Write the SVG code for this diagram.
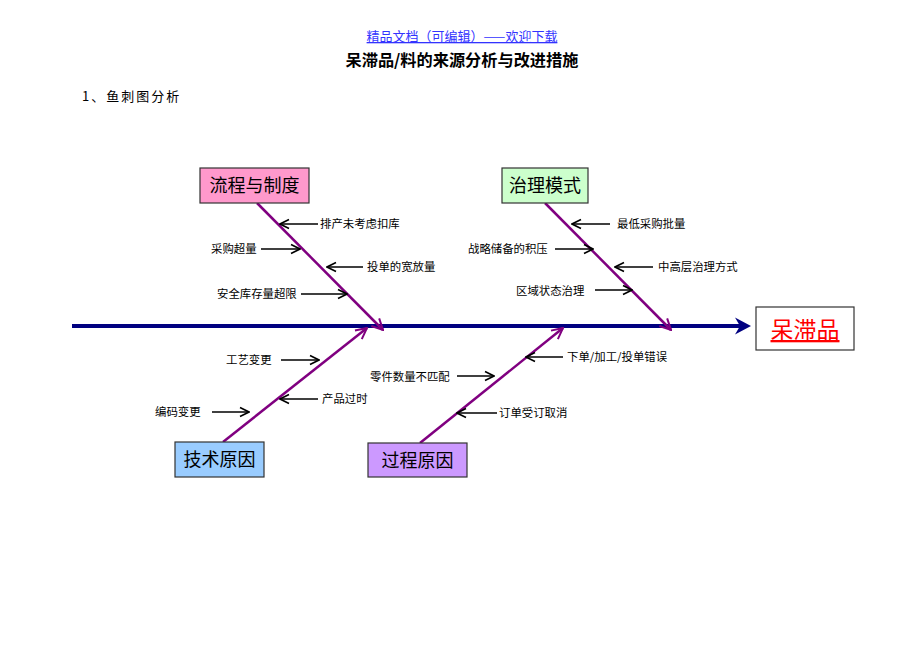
<svg xmlns="http://www.w3.org/2000/svg" width="920" height="651" viewBox="0 0 920 651">
<defs>
<marker id="ah" markerUnits="userSpaceOnUse" markerWidth="12" markerHeight="12" viewBox="0 0 12 12" refX="11" refY="6" orient="auto">
<path d="M2,1.5 L11,6 L2,10.5" fill="none" stroke="#000" stroke-width="1.6"/>
</marker>
<marker id="bh" markerUnits="userSpaceOnUse" markerWidth="14" markerHeight="14" viewBox="0 0 14 14" refX="13" refY="7" orient="auto">
<path d="M2,1.5 L13,7 L2,12.5" fill="none" stroke="#800080" stroke-width="2"/>
</marker>
</defs>
<style>
.cat{font-family:"Noto Sans CJK SC","Liberation Sans",sans-serif;font-size:18px;fill:#000;text-anchor:middle}
.lbl{font-family:"Noto Sans CJK SC","Liberation Sans",sans-serif;font-size:11.4px;fill:#000}
.box{stroke:#333;stroke-width:1.2}
.bone{stroke:#800080;stroke-width:2.5;fill:none;marker-end:url(#bh)}
.arr{stroke:#000;stroke-width:1.6;fill:none;marker-end:url(#ah)}
</style>
<rect width="920" height="651" fill="#fff"/>
<g id="header">
<text x="462" y="41" font-family="Noto Sans CJK SC, sans-serif" font-size="13" fill="#3333ff" text-anchor="middle" text-decoration="underline">精品文档（可编辑）——欢迎下载</text>
<text x="462" y="66" font-family="Noto Sans CJK SC, sans-serif" font-size="16.2" font-weight="bold" fill="#000" text-anchor="middle">呆滞品/料的来源分析与改进措施</text>
<text x="82" y="101" font-family="Noto Sans CJK SC, sans-serif" font-size="13" fill="#000" letter-spacing="2">1、鱼刺图分析</text>
</g>
<g id="connectors">
<line x1="72" y1="326" x2="740" y2="326" stroke="#000080" stroke-width="4"/>
<path d="M735,317.5 L751,326 L735,334.5 L740,326 Z" fill="#000080"/>
<line class="bone" x1="257" y1="203" x2="383" y2="330"/>
<line class="bone" x1="545" y1="203" x2="671" y2="330"/>
<line class="bone" x1="223" y1="442" x2="367" y2="328"/>
<line class="bone" x1="420" y1="443" x2="563" y2="328"/>
<line class="arr" x1="318" y1="224" x2="280" y2="224"/>
<line class="arr" x1="261" y1="249" x2="300" y2="249"/>
<line class="arr" x1="363" y1="267" x2="327" y2="267"/>
<line class="arr" x1="301" y1="294" x2="347" y2="294"/>
<line class="arr" x1="610" y1="224" x2="572" y2="224"/>
<line class="arr" x1="555" y1="249" x2="593" y2="249"/>
<line class="arr" x1="653" y1="267" x2="615" y2="267"/>
<line class="arr" x1="595" y1="290" x2="632" y2="290"/>
<line class="arr" x1="281" y1="360" x2="319" y2="360"/>
<line class="arr" x1="318" y1="399" x2="280" y2="399"/>
<line class="arr" x1="212" y1="412" x2="249" y2="412"/>
<line class="arr" x1="563" y1="357" x2="526" y2="357"/>
<line class="arr" x1="457" y1="376" x2="494" y2="376"/>
<line class="arr" x1="497" y1="413" x2="457" y2="413"/>
</g>
<g id="labels">
<text class="lbl" x="320" y="228">排产未考虑扣库</text>
<text class="lbl" x="211" y="253">采购超量</text>
<text class="lbl" x="367" y="271">投单的宽放量</text>
<text class="lbl" x="217" y="298">安全库存量超限</text>
<text class="lbl" x="617" y="228">最低采购批量</text>
<text class="lbl" x="468" y="253">战略储备的积压</text>
<text class="lbl" x="658" y="271">中高层治理方式</text>
<text class="lbl" x="516" y="295">区域状态治理</text>
<text class="lbl" x="226" y="364">工艺变更</text>
<text class="lbl" x="322" y="403">产品过时</text>
<text class="lbl" x="155" y="416">编码变更</text>
<text class="lbl" x="567" y="361">下单/加工/投单错误</text>
<text class="lbl" x="370" y="381">零件数量不匹配</text>
<text class="lbl" x="499" y="417">订单受订取消</text>
</g>
<g id="node-process">
<rect class="box" x="200" y="168" width="109" height="35" fill="#ff99cc"/>
<text class="cat" x="254.5" y="192">流程与制度</text>
</g>
<g id="node-governance">
<rect class="box" x="502" y="168" width="86" height="35" fill="#ccffcc"/>
<text class="cat" x="545" y="192">治理模式</text>
</g>
<g id="node-tech">
<rect class="box" x="175" y="442" width="89" height="35" fill="#99ccff"/>
<text class="cat" x="219.5" y="466">技术原因</text>
</g>
<g id="node-procedure">
<rect class="box" x="368" y="443" width="99" height="34" fill="#cc99ff"/>
<text class="cat" x="417.5" y="467">过程原因</text>
</g>
<g id="node-effect">
<rect class="box" x="756" y="307" width="98" height="43" fill="#fff"/>
<text x="805" y="338" font-family="Noto Sans CJK SC, sans-serif" font-size="23" fill="#ff0000" text-anchor="middle" text-decoration="underline">呆滞品</text>
</g>
</svg>
